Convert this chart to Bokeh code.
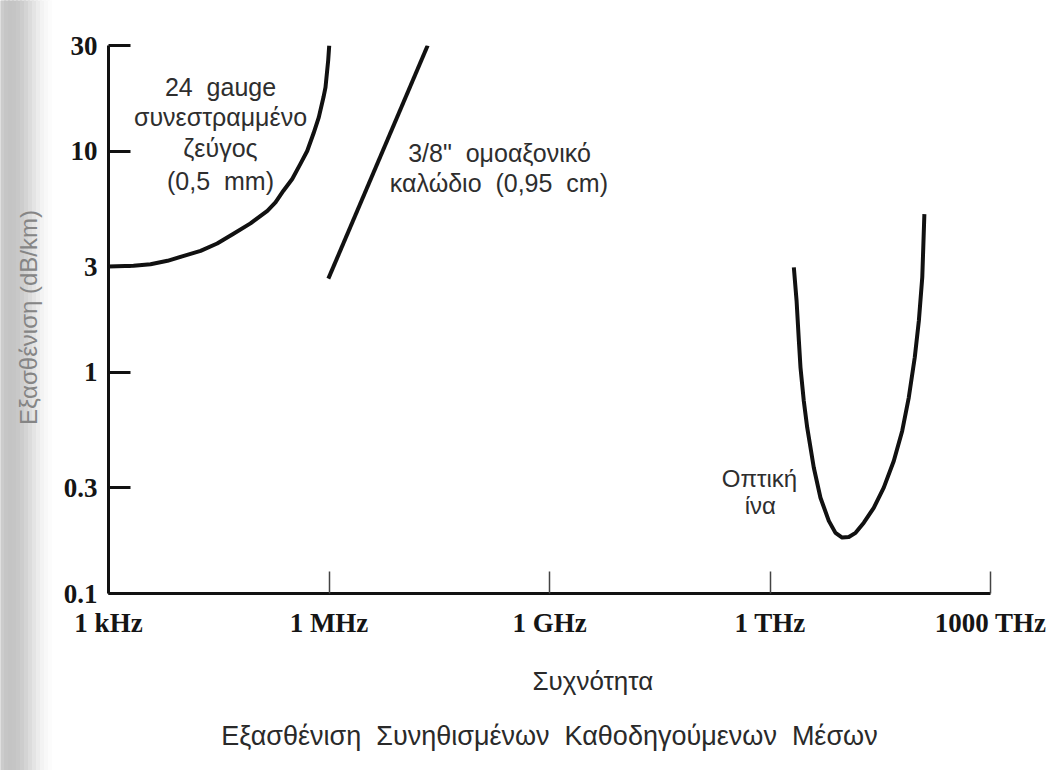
import math
from bokeh.plotting import figure
from bokeh.layouts import row
from bokeh.models import Range1d, FixedTicker, CustomJSTickFormatter, Title
from bokeh.core.properties import value
from bokeh.embed import file_html
from bokeh.resources import INLINE

# ---- data ----
freq_ticks = [1e3, 1e6, 1e9, 1e12, 1e15]
freq_labels = ["1 kHz", "1 MHz", "1 GHz", "1 THz", "1000 THz"]
att_ticks = [0.1, 0.3, 1, 3, 10, 30]
att_labels = ["0.1", "0.3", "1", "3", "10", "30"]

# 24 gauge twisted pair
tp_freq = [1.0e3, 2.19e3, 3.73e3, 6.35e3, 1.06e4, 1.79e4, 3.01e4, 5.02e4, 8.55e4, 1.45e5,
           1.87e5, 2.40e5, 3.16e5, 4.10e5, 5.05e5, 6.15e5, 7.26e5, 8.41e5, 8.96e5, 9.75e5, 1.007e6]
tp_att = [3.01, 3.03, 3.08, 3.19, 3.36, 3.54, 3.82, 4.23, 4.71, 5.37,
          5.86, 6.62, 7.48, 8.77, 10.0, 12.0, 14.2, 17.5, 19.4, 25.7, 30.0]

# 3/8" coax
coax_freq = [9.8e5, 2.2e7]
coax_att = [2.65, 30.0]

# optical fibre
fib_freq = [2.11e12, 2.30e12, 2.47e12, 2.60e12, 2.88e12, 3.21e12, 3.94e12, 4.86e12, 6.31e12,
            7.78e12, 9.60e12, 1.18e13, 1.46e13, 1.89e13, 2.58e13, 3.53e13, 4.83e13, 6.29e13,
            7.73e13, 9.33e13, 1.06e14, 1.18e14, 1.26e14]
fib_att = [2.98, 2.10, 1.39, 1.05, 0.743, 0.562, 0.371, 0.271, 0.213,
           0.188, 0.179, 0.180, 0.188, 0.209, 0.244, 0.301, 0.397, 0.543,
           0.769, 1.17, 1.71, 2.69, 5.19]

# annotation texts (data positions)
tp_text = ["24\u00a0 gauge", "συνεστραμμένο", "ζεύγος", "(0,5\u00a0 mm)"]
tp_text_f = [3.34e4, 3.34e4, 3.34e4, 3.34e4]
tp_text_a = [19.4, 14.2, 10.3, 7.35]
coax_text = ["3/8\"\u00a0 ομοαξονικό", "καλώδιο\u00a0 (0,95\u00a0 cm)"]
coax_text_f = [2.09e8, 2.05e8]
coax_text_a = [9.84, 7.19]
fib_text = ["Οπτική", "ίνα"]
fib_text_f = [7.2e11, 7.4e11]
fib_text_a = [0.330, 0.249]

x_title = "Συχνότητα"
y_title = "Εξασθένιση (dB/km)"
main_title = "Εξασθένιση\u00a0 Συνηθισμένων\u00a0 Καθοδηγούμενων\u00a0 Μέσων"

# ---- layout sizes ----
H = 770
SW = 52            # width of the left strip (scan shadow + y-axis title)
W = 1050 - SW

# ---- left strip: scan shadow and vertical axis title ----
s = figure(width=SW, height=H, x_range=Range1d(0, SW), y_range=Range1d(H, 0),
           output_backend="svg", toolbar_location=None,
           x_axis_location=None, y_axis_location=None,
           min_border_left=0, min_border_right=0, min_border_top=0, min_border_bottom=0)
s.frame_align = False
s.outline_line_color = None
s.grid.visible = False
s.background_fill_color = "white"
s.border_fill_color = "white"
shade_grey = [204, 198, 196, 197, 200, 205, 212, 220, 228, 236, 243, 248, 252]
band_left = [i * 4 for i in range(len(shade_grey))]
band_right = [i * 4 + 5 for i in range(len(shade_grey))]
band_col = ["#%02x%02x%02x" % (g, g, g) for g in shade_grey]
s.quad(left=band_left, right=band_right, top=0, bottom=H, fill_color=band_col,
       line_color=band_col, line_width=1)
s.text([28], [317], text=[y_title], angle=math.pi / 2, text_align="center",
       text_baseline="middle", text_font=value("Liberation Sans"), text_font_size="24px",
       text_color="#858585")

# ---- main figure ----
p = figure(width=W, height=H, x_axis_type="log", y_axis_type="log",
           x_range=Range1d(1e3, 1e15), y_range=Range1d(0.1, 30),
           output_backend="svg", toolbar_location=None,
           min_border_left=108 - SW, min_border_top=45, min_border_right=60,
           min_border_bottom=176)
p.frame_align = False
p.outline_line_color = None
p.grid.visible = False
p.background_fill_color = "white"
p.border_fill_color = "white"

fmt_code = """
let best = 0, d = 1e9;
for (let i = 0; i < t.length; i++) {
  const dd = Math.abs(Math.log10(tick) - Math.log10(t[i]));
  if (dd < d) { d = dd; best = i; }
}
return l[best];
"""

# axes
xa = p.xaxis[0]
xa.ticker = FixedTicker(ticks=freq_ticks, minor_ticks=[])
xa.formatter = CustomJSTickFormatter(args=dict(t=freq_ticks, l=freq_labels), code=fmt_code)
xa.axis_line_width = 3
xa.axis_line_color = "#111111"
xa.major_tick_in = 22
xa.major_tick_out = 0
xa.minor_tick_in = 0
xa.minor_tick_out = 0
xa.major_tick_line_width = 1.5
xa.major_tick_line_color = "#444444"
xa.major_label_text_font = "Liberation Serif"
xa.major_label_text_font_style = "bold"
xa.major_label_text_font_size = "27px"
xa.major_label_text_color = "#151515"
xa.major_label_standoff = 14
xa.axis_label = "\u00a0" * 12 + x_title
xa.axis_label_text_font = "Liberation Sans"
xa.axis_label_text_font_style = "normal"
xa.axis_label_text_font_size = "26px"
xa.axis_label_text_color = "#2a2a2a"
xa.axis_label_standoff = 25

ya = p.yaxis[0]
ya.ticker = FixedTicker(ticks=att_ticks, minor_ticks=[])
ya.formatter = CustomJSTickFormatter(args=dict(t=att_ticks, l=att_labels), code=fmt_code)
ya.axis_line_width = 3
ya.axis_line_color = "#111111"
ya.major_tick_in = 22
ya.major_tick_out = 0
ya.minor_tick_in = 0
ya.minor_tick_out = 0
ya.major_tick_line_width = 3
ya.major_tick_line_color = "#111111"
ya.major_label_text_font = "Liberation Serif"
ya.major_label_text_font_style = "bold"
ya.major_label_text_font_size = "27px"
ya.major_label_text_color = "#151515"
ya.major_label_standoff = 11

# curves
p.line(tp_freq, tp_att, line_width=4, line_color="#111111", line_join="round")
p.line(coax_freq, coax_att, line_width=4, line_color="#111111")
p.line(fib_freq, fib_att, line_width=4, line_color="#111111", line_join="round")

# annotations
p.text(tp_text_f, tp_text_a, text=tp_text, text_align="center", text_baseline="middle",
       text_font=value("Liberation Sans"), text_font_size="25px", text_color="#2e2e2e")
p.text(coax_text_f, coax_text_a, text=coax_text, text_align="center", text_baseline="middle",
       text_font=value("Liberation Sans"), text_font_size="25px", text_color="#2e2e2e")
p.text(fib_text_f, fib_text_a, text=fib_text, text_align="center", text_baseline="middle",
       text_font=value("Liberation Sans"), text_font_size="24px", text_color="#2e2e2e")

t = Title(text=main_title, align="center", text_font="Liberation Sans",
          text_font_style="normal", text_font_size="27px", text_color="#2a2a2a",
          standoff=40, offset=-SW // 2 + 6)
p.add_layout(t, "below")

layout = row(s, p, spacing=0)
open("out.html", "w").write(file_html(layout, INLINE))
